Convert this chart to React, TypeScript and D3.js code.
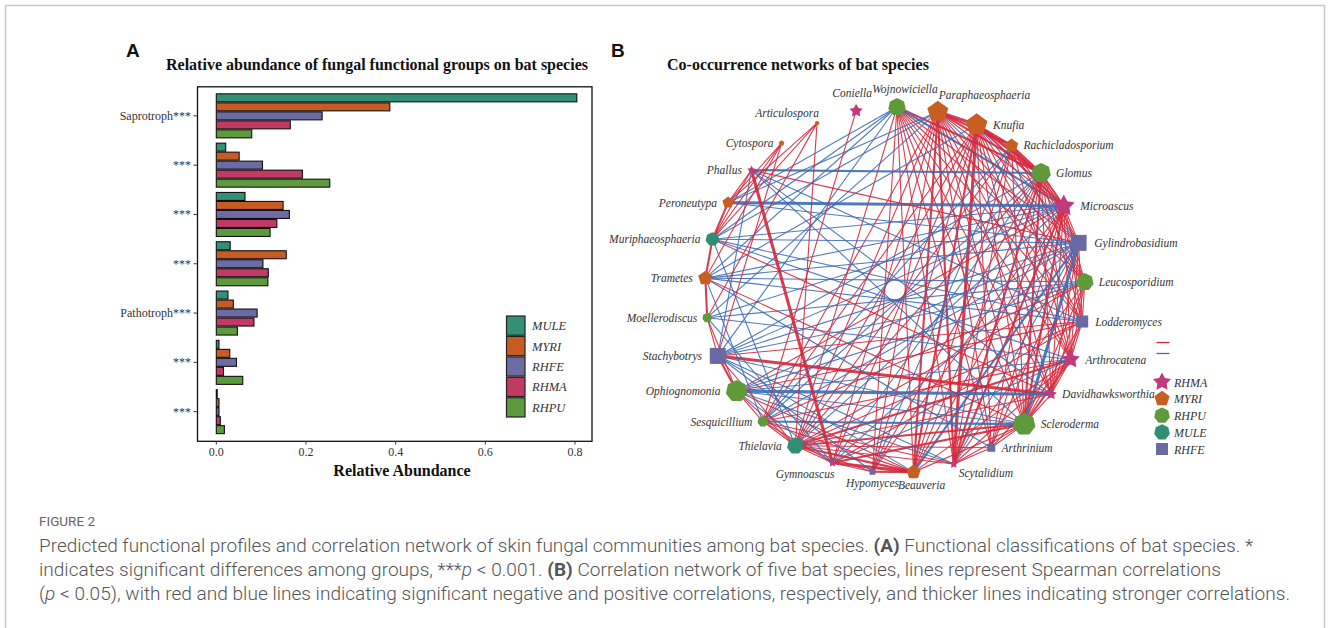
import React from 'react';
import * as d3 from 'd3';

const W = 1328;
const H = 628;

// ---------- panel A: relative abundance of functional groups
const groupIds = ['g1', 'g2', 'g3', 'g4', 'g5', 'g6', 'g7'];
const groupLabels = ['Saprotroph***', '***', '***', '***', 'Pathotroph***', '***', '***'];
const batSpecies = ['MULE', 'MYRI', 'RHFE', 'RHMA', 'RHPU'];
const MULE = [0.804, 0.021, 0.064, 0.031, 0.026, 0.006, 0.002];
const MYRI = [0.387, 0.051, 0.149, 0.156, 0.038, 0.030, 0.006];
const RHFE = [0.236, 0.103, 0.163, 0.104, 0.091, 0.045, 0.006];
const RHMA = [0.165, 0.192, 0.135, 0.116, 0.084, 0.016, 0.009];
const RHPU = [0.079, 0.253, 0.120, 0.115, 0.047, 0.059, 0.018];
const xTicks = [0, 0.2, 0.4, 0.6, 0.8];

// ---------- panel B: co-occurrence network
const nodeNames = [
  'Leucosporidium', 'Lodderomyces', 'Arthrocatena', 'Davidhawksworthia', 'Scleroderma',
  'Arthrinium', 'Scytalidium', 'Beauveria', 'Hypomyces', 'Gymnoascus', 'Thielavia',
  'Sesquicillium', 'Ophiognomonia', 'Stachybotrys', 'Moellerodiscus', 'Trametes',
  'Muriphaeosphaeria', 'Peroneutypa', 'Phallus', 'Cytospora', 'Articulospora', 'Coniella',
  'Wojnowiciella', 'Paraphaeosphaeria', 'Knufia', 'Rachicladosporium', 'Glomus',
  'Microascus', 'Gylindrobasidium',
];
const nodeGroup = [
  'RHPU', 'RHFE', 'RHMA', 'RHMA', 'RHPU',
  'RHFE', 'RHMA', 'MYRI', 'RHFE', 'RHMA', 'MULE',
  'RHPU', 'RHPU', 'RHFE', 'RHPU', 'MYRI',
  'MULE', 'MYRI', 'RHMA', 'MYRI', 'MYRI', 'RHMA',
  'RHPU', 'MYRI', 'MYRI', 'MYRI', 'RHPU',
  'RHMA', 'RHFE',
];
const nodeScore = [
  69, 62, 73, 46, 88,
  41, 35, 58, 31, 35, 65,
  42, 85, 82, 38, 58,
  54, 46, 35, 23, 19, 54,
  69, 85, 88, 54, 77,
  88, 82,
];
const networkLegend = ['RHMA', 'MYRI', 'RHPU', 'MULE', 'RHFE'];

// source, target, sign (- negative / + positive), strength
const edges: [string, string, string, number][] = [
  ['Wojnowiciella', 'Glomus', '-', 2], ['Wojnowiciella', 'Gylindrobasidium', '-', 1],
  ['Wojnowiciella', 'Leucosporidium', '-', 1], ['Wojnowiciella', 'Lodderomyces', '-', 1],
  ['Wojnowiciella', 'Arthrocatena', '-', 1], ['Wojnowiciella', 'Davidhawksworthia', '-', 1],
  ['Wojnowiciella', 'Scleroderma', '-', 1], ['Wojnowiciella', 'Arthrinium', '-', 1],
  ['Wojnowiciella', 'Scytalidium', '-', 1], ['Wojnowiciella', 'Beauveria', '-', 1],
  ['Wojnowiciella', 'Thielavia', '-', 1], ['Wojnowiciella', 'Hypomyces', '-', 1],
  ['Wojnowiciella', 'Microascus', '+', 2], ['Wojnowiciella', 'Peroneutypa', '+', 1],
  ['Wojnowiciella', 'Muriphaeosphaeria', '+', 1], ['Wojnowiciella', 'Trametes', '+', 1],
  ['Wojnowiciella', 'Stachybotrys', '+', 1],
  ['Paraphaeosphaeria', 'Knufia', '-', 3], ['Paraphaeosphaeria', 'Rachicladosporium', '-', 2],
  ['Paraphaeosphaeria', 'Glomus', '-', 2], ['Paraphaeosphaeria', 'Microascus', '-', 1],
  ['Paraphaeosphaeria', 'Leucosporidium', '-', 1], ['Paraphaeosphaeria', 'Lodderomyces', '-', 1],
  ['Paraphaeosphaeria', 'Arthrocatena', '-', 1], ['Paraphaeosphaeria', 'Davidhawksworthia', '-', 1],
  ['Paraphaeosphaeria', 'Scleroderma', '-', 1], ['Paraphaeosphaeria', 'Arthrinium', '-', 1],
  ['Paraphaeosphaeria', 'Scytalidium', '-', 2], ['Paraphaeosphaeria', 'Beauveria', '-', 2],
  ['Paraphaeosphaeria', 'Hypomyces', '-', 1], ['Paraphaeosphaeria', 'Gymnoascus', '-', 1],
  ['Paraphaeosphaeria', 'Thielavia', '-', 1], ['Paraphaeosphaeria', 'Sesquicillium', '-', 1],
  ['Paraphaeosphaeria', 'Gylindrobasidium', '+', 1], ['Paraphaeosphaeria', 'Peroneutypa', '+', 1],
  ['Paraphaeosphaeria', 'Muriphaeosphaeria', '+', 1], ['Paraphaeosphaeria', 'Moellerodiscus', '+', 1],
  ['Knufia', 'Rachicladosporium', '-', 2], ['Knufia', 'Glomus', '-', 3],
  ['Knufia', 'Microascus', '-', 2], ['Knufia', 'Leucosporidium', '-', 1],
  ['Knufia', 'Lodderomyces', '-', 1], ['Knufia', 'Arthrocatena', '-', 1],
  ['Knufia', 'Davidhawksworthia', '-', 1], ['Knufia', 'Scleroderma', '-', 1],
  ['Knufia', 'Arthrinium', '-', 1], ['Knufia', 'Scytalidium', '-', 3],
  ['Knufia', 'Beauveria', '-', 2], ['Knufia', 'Hypomyces', '-', 1],
  ['Knufia', 'Gymnoascus', '-', 1], ['Knufia', 'Thielavia', '-', 1],
  ['Knufia', 'Sesquicillium', '-', 1], ['Knufia', 'Gylindrobasidium', '+', 1],
  ['Knufia', 'Trametes', '+', 1],
  ['Rachicladosporium', 'Glomus', '-', 2], ['Rachicladosporium', 'Microascus', '-', 1],
  ['Rachicladosporium', 'Gylindrobasidium', '-', 1], ['Rachicladosporium', 'Leucosporidium', '-', 1],
  ['Rachicladosporium', 'Arthrocatena', '-', 1], ['Rachicladosporium', 'Scleroderma', '-', 1],
  ['Rachicladosporium', 'Scytalidium', '-', 1], ['Rachicladosporium', 'Beauveria', '-', 1],
  ['Rachicladosporium', 'Thielavia', '-', 1], ['Rachicladosporium', 'Hypomyces', '+', 1],
  ['Rachicladosporium', 'Sesquicillium', '+', 1],
  ['Glomus', 'Microascus', '-', 2], ['Glomus', 'Gylindrobasidium', '-', 1],
  ['Glomus', 'Leucosporidium', '-', 1], ['Glomus', 'Lodderomyces', '-', 1],
  ['Glomus', 'Arthrocatena', '-', 1], ['Glomus', 'Davidhawksworthia', '-', 1],
  ['Glomus', 'Scleroderma', '-', 2], ['Glomus', 'Arthrinium', '-', 1],
  ['Glomus', 'Scytalidium', '-', 2], ['Glomus', 'Beauveria', '-', 1],
  ['Glomus', 'Gymnoascus', '+', 1], ['Glomus', 'Thielavia', '-', 1],
  ['Glomus', 'Hypomyces', '-', 1], ['Glomus', 'Phallus', '+', 2],
  ['Glomus', 'Stachybotrys', '+', 1], ['Glomus', 'Sesquicillium', '+', 1],
  ['Microascus', 'Gylindrobasidium', '-', 1], ['Microascus', 'Leucosporidium', '-', 1],
  ['Microascus', 'Lodderomyces', '-', 1], ['Microascus', 'Arthrocatena', '-', 1],
  ['Microascus', 'Davidhawksworthia', '-', 1], ['Microascus', 'Scleroderma', '-', 2],
  ['Microascus', 'Arthrinium', '-', 1], ['Microascus', 'Scytalidium', '-', 2],
  ['Microascus', 'Beauveria', '-', 1], ['Microascus', 'Hypomyces', '-', 1],
  ['Microascus', 'Thielavia', '+', 1], ['Microascus', 'Moellerodiscus', '+', 1],
  ['Microascus', 'Peroneutypa', '+', 3], ['Microascus', 'Muriphaeosphaeria', '+', 1],
  ['Microascus', 'Trametes', '+', 1], ['Microascus', 'Stachybotrys', '+', 1],
  ['Microascus', 'Ophiognomonia', '-', 1],
  ['Gylindrobasidium', 'Lodderomyces', '-', 1], ['Gylindrobasidium', 'Arthrocatena', '-', 1],
  ['Gylindrobasidium', 'Davidhawksworthia', '-', 1], ['Gylindrobasidium', 'Arthrinium', '-', 1],
  ['Gylindrobasidium', 'Scytalidium', '+', 1], ['Gylindrobasidium', 'Scleroderma', '+', 3],
  ['Gylindrobasidium', 'Beauveria', '+', 2], ['Gylindrobasidium', 'Muriphaeosphaeria', '+', 1],
  ['Gylindrobasidium', 'Stachybotrys', '+', 1], ['Gylindrobasidium', 'Trametes', '+', 1],
  ['Gylindrobasidium', 'Ophiognomonia', '+', 1], ['Gylindrobasidium', 'Sesquicillium', '+', 1],
  ['Gylindrobasidium', 'Gymnoascus', '+', 1], ['Gylindrobasidium', 'Phallus', '-', 1],
  ['Gylindrobasidium', 'Peroneutypa', '+', 1],
  ['Leucosporidium', 'Arthrocatena', '-', 1], ['Leucosporidium', 'Davidhawksworthia', '-', 1],
  ['Leucosporidium', 'Scleroderma', '-', 1], ['Leucosporidium', 'Scytalidium', '-', 1],
  ['Leucosporidium', 'Thielavia', '-', 1], ['Leucosporidium', 'Trametes', '+', 1],
  ['Leucosporidium', 'Stachybotrys', '+', 1], ['Leucosporidium', 'Ophiognomonia', '+', 1],
  ['Leucosporidium', 'Lodderomyces', '-', 1], ['Leucosporidium', 'Moellerodiscus', '+', 1],
  ['Leucosporidium', 'Sesquicillium', '-', 1],
  ['Lodderomyces', 'Davidhawksworthia', '-', 1], ['Lodderomyces', 'Scleroderma', '-', 1],
  ['Lodderomyces', 'Thielavia', '-', 1], ['Lodderomyces', 'Gymnoascus', '-', 1],
  ['Lodderomyces', 'Muriphaeosphaeria', '+', 1], ['Lodderomyces', 'Trametes', '+', 1],
  ['Lodderomyces', 'Phallus', '+', 1], ['Lodderomyces', 'Stachybotrys', '-', 1],
  ['Lodderomyces', 'Arthrocatena', '-', 1], ['Lodderomyces', 'Ophiognomonia', '-', 1],
  ['Arthrocatena', 'Scleroderma', '-', 2], ['Arthrocatena', 'Arthrinium', '-', 1],
  ['Arthrocatena', 'Scytalidium', '-', 1], ['Arthrocatena', 'Beauveria', '-', 1],
  ['Arthrocatena', 'Thielavia', '-', 2], ['Arthrocatena', 'Sesquicillium', '-', 1],
  ['Arthrocatena', 'Ophiognomonia', '+', 1], ['Arthrocatena', 'Muriphaeosphaeria', '+', 1],
  ['Arthrocatena', 'Gymnoascus', '+', 1], ['Arthrocatena', 'Davidhawksworthia', '-', 1],
  ['Arthrocatena', 'Moellerodiscus', '+', 1],
  ['Davidhawksworthia', 'Scleroderma', '-', 1], ['Davidhawksworthia', 'Stachybotrys', '-', 3],
  ['Davidhawksworthia', 'Thielavia', '-', 1], ['Davidhawksworthia', 'Ophiognomonia', '+', 3],
  ['Davidhawksworthia', 'Phallus', '+', 1], ['Davidhawksworthia', 'Muriphaeosphaeria', '-', 1],
  ['Scleroderma', 'Arthrinium', '-', 1], ['Scleroderma', 'Scytalidium', '-', 1],
  ['Scleroderma', 'Beauveria', '-', 1], ['Scleroderma', 'Gymnoascus', '-', 2],
  ['Scleroderma', 'Thielavia', '-', 2], ['Scleroderma', 'Sesquicillium', '+', 2],
  ['Scleroderma', 'Stachybotrys', '+', 1], ['Scleroderma', 'Ophiognomonia', '+', 1],
  ['Scleroderma', 'Phallus', '+', 1], ['Scleroderma', 'Trametes', '-', 1],
  ['Arthrinium', 'Scytalidium', '-', 1],
  ['Arthrinium', 'Trametes', '+', 1], ['Arthrinium', 'Thielavia', '-', 1],
  ['Scytalidium', 'Stachybotrys', '+', 1], ['Scytalidium', 'Ophiognomonia', '+', 1],
  ['Scytalidium', 'Thielavia', '-', 1], ['Scytalidium', 'Sesquicillium', '-', 1],
  ['Beauveria', 'Gymnoascus', '-', 3], ['Beauveria', 'Hypomyces', '-', 2],
  ['Beauveria', 'Thielavia', '-', 2], ['Beauveria', 'Sesquicillium', '-', 1],
  ['Beauveria', 'Ophiognomonia', '-', 1], ['Beauveria', 'Stachybotrys', '+', 1],
  ['Hypomyces', 'Thielavia', '-', 1], ['Hypomyces', 'Stachybotrys', '+', 1],
  ['Hypomyces', 'Gymnoascus', '-', 1],
  ['Gymnoascus', 'Phallus', '-', 3], ['Gymnoascus', 'Thielavia', '-', 1],
  ['Gymnoascus', 'Moellerodiscus', '+', 1], ['Gymnoascus', 'Ophiognomonia', '+', 1],
  ['Gymnoascus', 'Sesquicillium', '-', 1],
  ['Thielavia', 'Sesquicillium', '-', 1], ['Thielavia', 'Ophiognomonia', '-', 1],
  ['Thielavia', 'Stachybotrys', '-', 1], ['Thielavia', 'Muriphaeosphaeria', '+', 1],
  ['Thielavia', 'Articulospora', '-', 1],
  ['Sesquicillium', 'Ophiognomonia', '-', 1], ['Sesquicillium', 'Trametes', '+', 1],
  ['Sesquicillium', 'Coniella', '-', 1],
  ['Ophiognomonia', 'Stachybotrys', '-', 2], ['Ophiognomonia', 'Moellerodiscus', '-', 1],
  ['Stachybotrys', 'Moellerodiscus', '-', 1],
  ['Stachybotrys', 'Phallus', '+', 1], ['Stachybotrys', 'Cytospora', '-', 1],
  ['Moellerodiscus', 'Trametes', '-', 2],
  ['Moellerodiscus', 'Articulospora', '-', 1],
  ['Trametes', 'Muriphaeosphaeria', '-', 2],
  ['Trametes', 'Cytospora', '-', 1],
  ['Muriphaeosphaeria', 'Peroneutypa', '-', 2], ['Muriphaeosphaeria', 'Phallus', '-', 1],
  ['Muriphaeosphaeria', 'Cytospora', '-', 1], ['Muriphaeosphaeria', 'Articulospora', '-', 1],
  ['Peroneutypa', 'Phallus', '-', 1], ['Peroneutypa', 'Cytospora', '-', 1],
  ['Peroneutypa', 'Articulospora', '-', 1],
];

const barColor: Record<string, string> = {
  MULE: '#338f76', MYRI: '#c65b24', RHFE: '#6c6ba4', RHMA: '#c03a64', RHPU: '#5d9a3e',
};
const nodeColor: Record<string, string> = {
  MULE: '#2f8e73', MYRI: '#c85f22', RHFE: '#6b69a3', RHMA: '#c33a7c', RHPU: '#5e9a3c',
};
const NEG = '#d3283c';
const POS = '#3d6db4';
const SERIF = '"Liberation Serif", "Times New Roman", serif';
const SANS = '"Liberation Sans", Arial, sans-serif';

function polygonPath(n: number, r: number) {
  const pts = d3.range(n).map(i => {
    const a = -Math.PI / 2 + (i * 2 * Math.PI) / n;
    return [r * Math.cos(a), r * Math.sin(a)] as [number, number];
  });
  return d3.line()(pts) + 'Z';
}

function starPath(r: number) {
  const pts = d3.range(10).map(i => {
    const a = -Math.PI / 2 + (i * Math.PI) / 5;
    const rr = i % 2 === 0 ? r : r * 0.52;
    return [rr * Math.cos(a), rr * Math.sin(a)] as [number, number];
  });
  return d3.line()(pts) + 'Z';
}

function shapePath(group: string, r: number) {
  if (group === 'RHMA') return starPath(r);
  if (group === 'MYRI') return polygonPath(5, r);
  if (group === 'RHFE') {
    const s = r * 0.75;
    return `M${-s},${-s}H${s}V${s}H${-s}Z`;
  }
  return polygonPath(7, r);
}

// label placement tweaks for crowded nodes
const labelNudge: Record<string, [string, number, number]> = {
  Paraphaeosphaeria: ['start', 1, -13],
  Scytalidium: ['start', 5, 13],
  Gymnoascus: ['end', 2, 15],
  Articulospora: ['end', 2, -6],
  Wojnowiciella: ['middle', 8, -14],
  Beauveria: ['middle', 8, 17],
  Coniella: ['middle', -4, -14],
};

function PanelA() {
  const x = d3.scaleLinear().domain([0, 0.8]).range([216.3, 575]);
  const y = d3.scaleBand<string>().domain(groupIds).range([91.2, 436.3])
    .paddingInner(0.087).paddingOuter(0.0435);
  const ySub = d3.scaleBand<string>().domain(batSpecies).range([0, y.bandwidth()]);
  const series: Record<string, number[]> = { MULE, MYRI, RHFE, RHMA, RHPU };
  const legendY = d3.scaleBand<string>().domain(batSpecies).range([316, 417]).paddingInner(0.06);

  return (
    <g>
      <text x={126} y={57} fontFamily={SANS} fontWeight="bold" fontSize={19} fill="#111">A</text>
      <text x={377} y={70} textAnchor="middle" fontFamily={SERIF} fontWeight="bold" fontSize={16} fill="#111">
        Relative abundance of fungal functional groups on bat species
      </text>
      {groupIds.map((g, gi) => (
        <g key={g} transform={`translate(0,${y(g)})`}>
          {batSpecies.map(s => (
            <rect key={s} x={x(0)} y={ySub(s)! + 0.5} width={x(series[s][gi]) - x(0)} height={ySub.bandwidth() - 1}
              fill={barColor[s]} stroke="#111" strokeWidth={1.1} />
          ))}
        </g>
      ))}
      <rect x={197.5} y={86.8} width={394.5} height={354.5} fill="none" stroke="#111" strokeWidth={1.3} />
      {groupIds.map((g, gi) => {
        const cy = y(g)! + y.bandwidth() / 2;
        return (
          <g key={g}>
            <line x1={193.5} x2={197.5} y1={cy} y2={cy} stroke="#333" />
            <text x={191} y={cy + 4} textAnchor="end" fontFamily={SERIF} fontSize={12} fill="#333">{groupLabels[gi]}</text>
          </g>
        );
      })}
      {xTicks.map(t => (
        <g key={t}>
          <line x1={x(t)} x2={x(t)} y1={441} y2={444.5} stroke="#333" />
          <text x={x(t)} y={456} textAnchor="middle" fontFamily={SERIF} fontSize={12} fill="#333">{t.toFixed(1)}</text>
        </g>
      ))}
      <text x={402} y={476} textAnchor="middle" fontFamily={SERIF} fontWeight="bold" fontSize={16} fill="#111">Relative Abundance</text>
      {batSpecies.map(s => (
        <g key={s}>
          <rect x={506.5} y={legendY(s)} width={18.5} height={legendY.bandwidth()} fill={barColor[s]} stroke="#222" strokeWidth={1.2} />
          <text x={532} y={legendY(s)! + legendY.bandwidth() / 2 + 4.5} fontFamily={SERIF} fontStyle="italic" fontSize={12.5} fill="#333">{s}</text>
        </g>
      ))}
    </g>
  );
}

function PanelB() {
  const cx = 895, cy = 290, rx = 190, ry = 183;
  const angle = d3.scaleLinear().domain([0, nodeNames.length])
    .range([-2.5 * Math.PI / 180, 357.5 * Math.PI / 180]);
  const rScale = d3.scaleLinear().domain([0, 100]).range([0, 13]);
  const nodes = nodeNames.map((name, i) => {
    const a = angle(i);
    return {
      name, group: nodeGroup[i], r: rScale(nodeScore[i]),
      x: cx + rx * Math.cos(a), y: cy + ry * Math.sin(a), cos: Math.cos(a), sin: Math.sin(a),
    };
  });
  const byName = new Map(nodes.map(n => [n.name, n]));
  const widthScale = d3.scaleLinear().domain([1, 3]).range([1.1, 3.1]);

  const legendY = d3.scalePoint<string>().domain(networkLegend).range([382, 449]);

  return (
    <g>
      <text x={611} y={57} fontFamily={SANS} fontWeight="bold" fontSize={19} fill="#111">B</text>
      <text x={667} y={70} fontFamily={SERIF} fontWeight="bold" fontSize={16} fill="#111">Co-occurrence networks of bat species</text>
      <g>
        {edges.map(([s, t, sign, w], i) => {
          const a = byName.get(s)!, b = byName.get(t)!;
          return (
            <line key={i} x1={a.x} y1={a.y} x2={b.x} y2={b.y}
              stroke={sign === '-' ? NEG : POS} strokeWidth={widthScale(w)} strokeOpacity={0.9} />
          );
        })}
      </g>
      {nodes.map(n => {
        let anchor = n.cos > 0.2 ? 'start' : n.cos < -0.3 ? 'end' : 'middle';
        let lx = anchor === 'start' ? n.x + n.r + 5 : anchor === 'end' ? n.x - n.r - 5 : n.x;
        let ly = anchor === 'middle' ? (n.sin < 0 ? n.y - n.r - 5 : n.y + n.r + 11) : n.y + 4;
        const nudge = labelNudge[n.name];
        if (nudge) {
          anchor = nudge[0];
          lx = n.x + nudge[1];
          ly = n.y + nudge[2];
        }
        return (
          <g key={n.name}>
            <path d={shapePath(n.group, n.r)} transform={`translate(${n.x},${n.y})`} fill={nodeColor[n.group]} />
            <text x={lx} y={ly} textAnchor={anchor} fontFamily={SERIF} fontStyle="italic" fontSize={11.5} fill="#333">{n.name}</text>
          </g>
        );
      })}
      <line x1={1156.5} x2={1169.5} y1={342.5} y2={342.5} stroke={NEG} strokeWidth={1.3} />
      <line x1={1156.5} x2={1169.5} y1={353.5} y2={353.5} stroke={POS} strokeWidth={1.3} />
      {networkLegend.map(g => (
        <g key={g}>
          <path d={shapePath(g, g === 'RHMA' ? 9.5 : 8)} transform={`translate(1162,${legendY(g)})`} fill={nodeColor[g]} />
          <text x={1174} y={legendY(g)! + 4.5} fontFamily={SERIF} fontStyle="italic" fontSize={12} fill="#333">{g}</text>
        </g>
      ))}
    </g>
  );
}

function Caption() {
  const font = 'Roboto, "Open Sans", sans-serif';
  return (
    <g fontFamily={font} fill="#555" fontWeight={300}>
      <text x={39} y={526} fontSize={13.5} textLength={56} lengthAdjust="spacingAndGlyphs" fill="#666" fontWeight={400}>FIGURE 2</text>
      <text x={39} y={552} fontSize={18.5} textLength={1214} lengthAdjust="spacingAndGlyphs">
        Predicted functional profiles and correlation network of skin fungal communities among bat species. <tspan fontWeight={700}>(A)</tspan> Functional classifications of bat species. *
      </text>
      <text x={39} y={576} fontSize={18.5} textLength={1182} lengthAdjust="spacingAndGlyphs">
        indicates significant differences among groups, ***<tspan fontStyle="italic">p</tspan> {'<'} 0.001. <tspan fontWeight={700}>(B)</tspan> Correlation network of five bat species, lines represent Spearman correlations
      </text>
      <text x={39} y={600} fontSize={18.5} textLength={1251} lengthAdjust="spacingAndGlyphs">
        (<tspan fontStyle="italic">p</tspan> {'<'} 0.05), with red and blue lines indicating significant negative and positive correlations, respectively, and thicker lines indicating stronger correlations.
      </text>
    </g>
  );
}

export default function App() {
  return (
    <svg width={W} height={H} style={{ position: 'absolute', left: 0, top: 0, background: '#fff' }}>
      <rect x={5.5} y={5.5} width={1319} height={650} fill="none" stroke="#c8c8c8" strokeWidth={1.5} />
      <PanelA />
      <PanelB />
      <Caption />
    </svg>
  );
}
